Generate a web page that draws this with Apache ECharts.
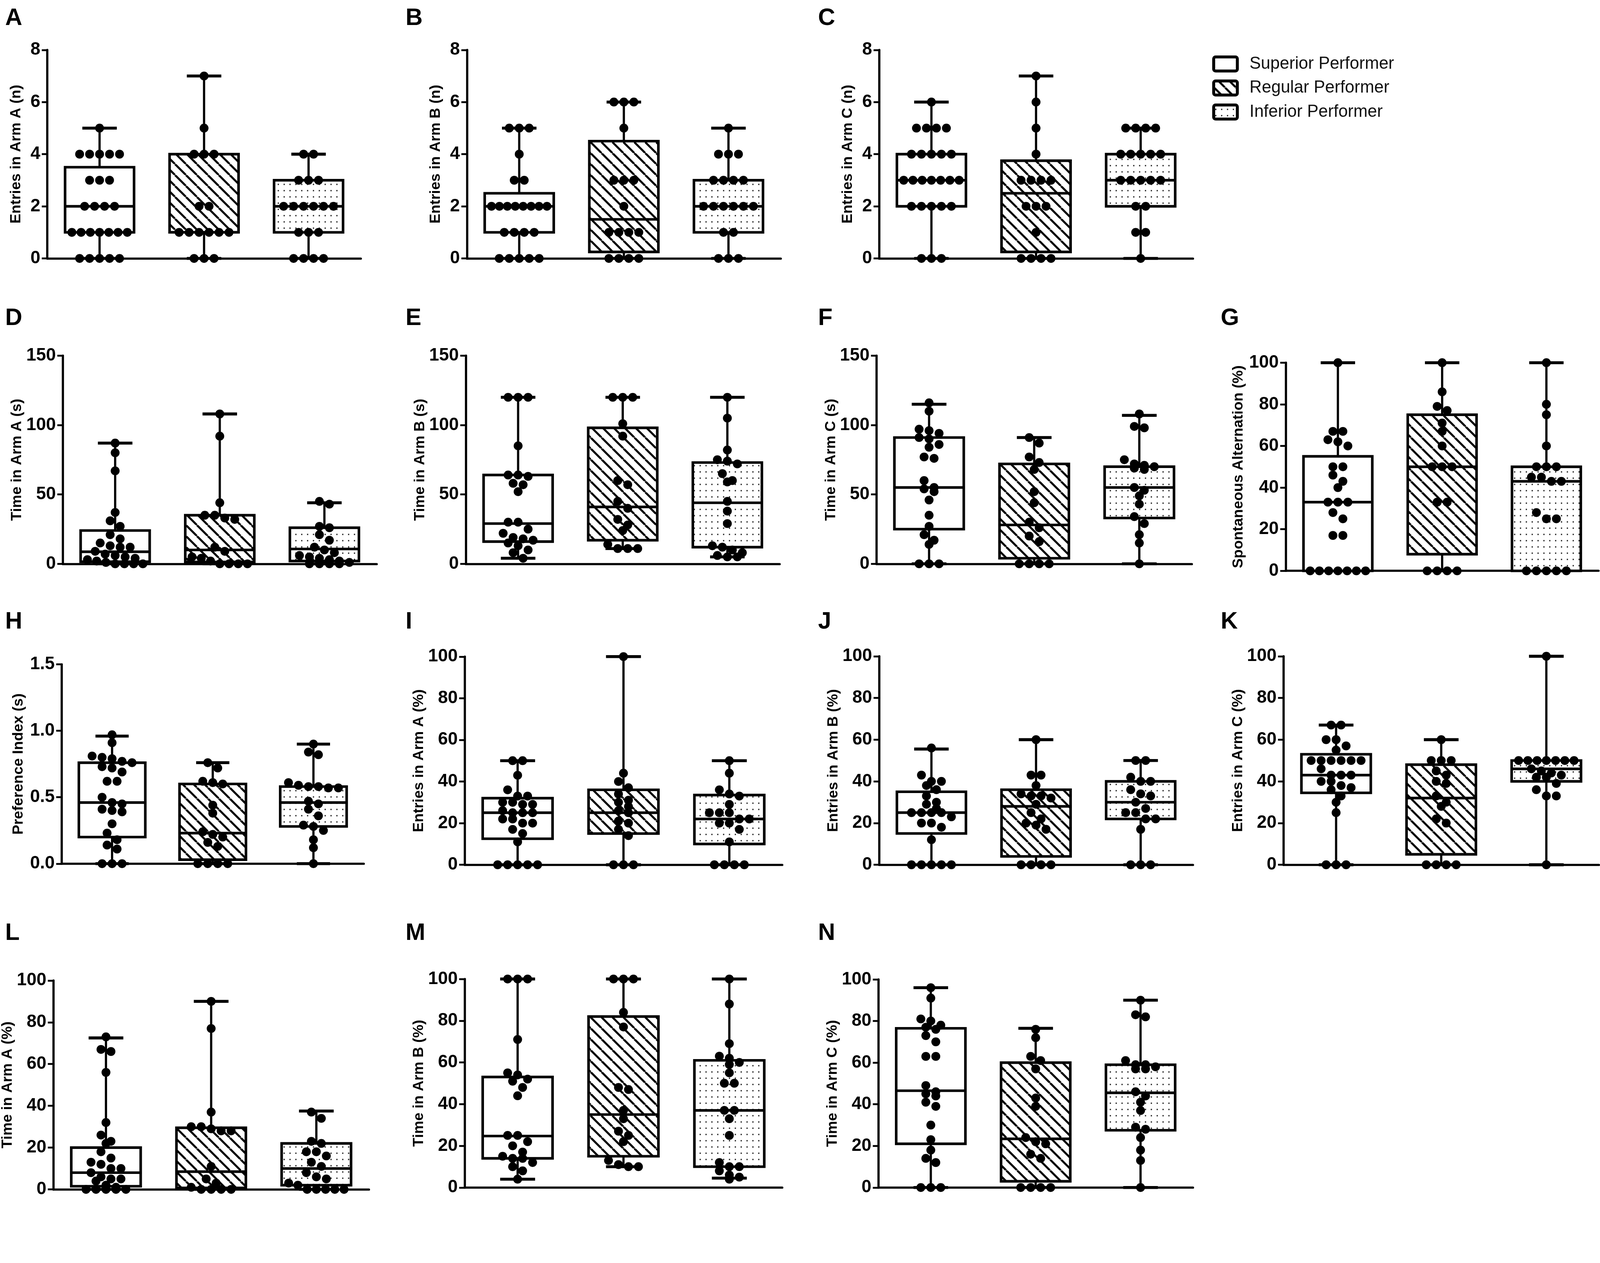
<!DOCTYPE html>
<html>
<head>
<meta charset="utf-8">
<script src="https://cdn.jsdelivr.net/npm/echarts@6/dist/echarts.min.js"></script>
<style>
  html, body { margin: 0; padding: 0; background: #fff; overflow: hidden; }
  #main { width: 100vw; height: 100vh; }
</style>
</head>
<body>
<div id="main"></div>
<script>
const groups = ["Superior Performer", "Regular Performer", "Inferior Performer"];

// box stats per group: [min, q1, median, q3, max]; points per group
const boxA = [[0, 1, 2, 3.5, 5], [0, 1, 1, 4, 7], [0, 1, 2, 3, 4]];
const ptsA = [
  [5, 4, 4, 4, 4, 4, 3, 3, 3, 2, 2, 2, 2, 1, 1, 1, 1, 1, 1, 1, 0, 0, 0, 0, 0],
  [7, 5, 4, 4, 4, 2, 2, 1, 1, 1, 1, 1, 1, 0, 0, 0],
  [4, 4, 3, 3, 3, 2, 2, 2, 2, 2, 2, 1, 1, 1, 0, 0, 0, 0]
];
const boxB = [[0, 1, 2, 2.5, 5], [0, 0.25, 1.5, 4.5, 6], [0, 1, 2, 3, 5]];
const ptsB = [
  [5, 5, 5, 4, 3, 3, 2, 2, 2, 2, 2, 2, 2, 2, 1, 1, 1, 1, 0, 0, 0, 0, 0],
  [6, 6, 6, 5, 3, 3, 3, 2, 1, 1, 1, 1, 0, 0, 0, 0],
  [5, 4, 4, 4, 3, 3, 3, 3, 2, 2, 2, 2, 2, 2, 1, 1, 0, 0, 0]
];
const boxC = [[0, 2, 3, 4, 6], [0, 0.25, 2.5, 3.75, 7], [0, 2, 3, 4, 5]];
const ptsC = [
  [6, 5, 5, 5, 5, 4, 4, 4, 4, 4, 3, 3, 3, 3, 3, 3, 3, 2, 2, 2, 2, 2, 0, 0, 0],
  [7, 6, 5, 4, 3, 3, 3, 3, 2, 2, 2, 1, 0, 0, 0, 0],
  [5, 5, 5, 5, 4, 4, 4, 4, 4, 3, 3, 3, 3, 3, 2, 2, 1, 1, 0]
];
const boxD = [[0, 1.5, 8.7, 24, 87], [0, 1.3, 10, 35, 108], [0, 2, 10.7, 26, 44]];
const ptsD = [
  [87, 80, 67, 37, 31, 27, 21, 18, 15, 13, 12, 12, 9, 7, 6, 5, 4, 3, 2, 1, 0, 0, 0, 0],
  [108, 92, 44, 35, 35, 33, 32, 12, 9, 5, 4, 2, 0, 0, 0, 0],
  [45, 43, 27, 26, 21, 17, 12, 10, 8, 6, 5, 4, 3, 2, 1, 0, 0, 0, 0]
];
const boxE = [[4, 16, 29, 64, 120], [11, 17, 41, 98, 120], [5, 12, 44, 73, 120]];
const ptsE = [
  [120, 120, 120, 85, 64, 64, 63, 58, 57, 52, 30, 30, 25, 22, 19, 18, 17, 15, 13, 10, 8, 4],
  [120, 120, 120, 101, 92, 60, 57, 45, 40, 32, 28, 24, 14, 11, 11, 11],
  [120, 105, 82, 75, 74, 72, 65, 60, 59, 45, 38, 29, 13, 12, 10, 8, 6, 5, 5]
];
const boxF = [[0, 25, 55, 91, 115], [0, 4, 28, 72, 91], [0, 33, 55, 70, 107]];
const ptsF = [
  [116, 110, 97, 96, 94, 91, 90, 86, 84, 77, 76, 60, 55, 54, 52, 46, 35, 27, 21, 17, 14, 0, 0, 0],
  [91, 87, 77, 73, 68, 52, 44, 30, 26, 20, 16, 0, 0, 0, 0],
  [108, 99, 98, 75, 72, 71, 70, 69, 68, 55, 53, 49, 43, 34, 29, 21, 15, 0]
];
const boxG = [[0, 0, 33, 55, 100], [0, 8, 50, 75, 100], [0, 0, 43, 50, 100]];
const ptsG = [
  [100, 67, 67, 63, 62, 60, 50, 50, 46, 43, 40, 33, 33, 33, 28, 25, 17, 17, 0, 0, 0, 0, 0, 0, 0],
  [100, 86, 79, 77, 71, 67, 60, 50, 50, 50, 33, 33, 0, 0, 0, 0],
  [100, 80, 75, 60, 50, 50, 50, 45, 45, 43, 43, 28, 25, 25, 0, 0, 0, 0, 0]
];
const boxH = [[0, 0.2, 0.46, 0.76, 0.96], [0, 0.03, 0.23, 0.6, 0.76], [0, 0.28, 0.46, 0.58, 0.9]];
const ptsH = [
  [0.97, 0.91, 0.81, 0.8, 0.79, 0.77, 0.76, 0.73, 0.72, 0.69, 0.62, 0.62, 0.5, 0.46, 0.45, 0.41, 0.4, 0.39, 0.3, 0.23, 0.18, 0.14, 0.11, 0, 0, 0],
  [0.76, 0.72, 0.62, 0.61, 0.6, 0.44, 0.38, 0.24, 0.22, 0.2, 0.16, 0.13, 0, 0, 0, 0],
  [0.9, 0.84, 0.82, 0.61, 0.59, 0.58, 0.58, 0.57, 0.57, 0.47, 0.45, 0.41, 0.36, 0.29, 0.28, 0.25, 0.18, 0.12, 0]
];
const boxI = [[0, 12.5, 25, 32, 50], [0, 15, 25, 36, 100], [0, 10, 22, 33.5, 50]];
const ptsI = [
  [50, 50, 43, 36, 33, 33, 30, 30, 29, 29, 26, 25, 25, 25, 22, 22, 20, 20, 17, 15, 11, 0, 0, 0, 0, 0],
  [100, 44, 40, 37, 34, 31, 30, 28, 26, 25, 21, 20, 17, 14, 0, 0, 0],
  [50, 44, 36, 34, 33, 29, 25, 25, 25, 22, 22, 20, 20, 17, 11, 0, 0, 0, 0]
];
const boxJ = [[0, 15, 25, 35, 55.5], [0, 4, 28, 36, 60], [0, 22, 30, 40, 50]];
const ptsJ = [
  [56, 43, 40, 40, 38, 36, 33, 30, 29, 27, 25, 25, 25, 25, 23, 20, 20, 18, 12, 0, 0, 0, 0, 0],
  [60, 43, 43, 38, 34, 33, 33, 32, 29, 25, 22, 20, 19, 17, 0, 0, 0, 0],
  [50, 50, 42, 40, 40, 36, 34, 33, 30, 27, 25, 25, 22, 22, 17, 0, 0, 0]
];
const boxK = [[0, 34.5, 43, 53, 67], [0, 5, 32, 48, 60], [0, 40, 46, 50, 100]];
const ptsK = [
  [67, 67, 60, 60, 57, 55, 50, 50, 50, 50, 50, 50, 46, 43, 43, 43, 40, 40, 38, 37, 36, 33, 30, 25, 0, 0, 0],
  [60, 50, 50, 50, 45, 43, 40, 39, 33, 30, 28, 22, 20, 0, 0, 0, 0],
  [100, 50, 50, 50, 50, 50, 50, 50, 46, 45, 44, 43, 42, 42, 39, 36, 33, 33, 0]
];
const boxL = [[0, 1.5, 8, 20, 72.5], [0, 0.7, 8.5, 29.5, 90], [0, 2, 10, 22, 37.5]];
const ptsL = [
  [73, 67, 66, 56, 32, 26, 23, 22, 18, 15, 13, 12, 10, 10, 8, 6, 5, 5, 4, 2, 1, 0, 0, 0, 0, 0],
  [90, 77, 37, 30, 30, 29, 28, 28, 11, 5, 3, 1, 0, 0, 0, 0],
  [37, 34, 23, 22, 18, 18, 16, 13, 11, 8, 6, 5, 3, 2, 0, 0, 0, 0, 0]
];
const boxM = [[4, 14, 24.7, 53, 100], [10, 15, 35, 82, 100], [4.5, 10, 37, 61, 100]];
const ptsM = [
  [100, 100, 100, 71, 55, 54, 52, 51, 48, 44, 25, 25, 22, 20, 17, 15, 14, 14, 12, 10, 8, 4],
  [100, 100, 100, 84, 77, 48, 47, 37, 33, 27, 25, 22, 13, 11, 10, 10],
  [100, 88, 69, 63, 62, 60, 59, 55, 50, 50, 37, 37, 33, 25, 12, 10, 10, 8, 6, 5, 4]
];
const boxN = [[0, 21, 46.5, 76.5, 96], [0, 3, 23.4, 60, 76.5], [0, 27.5, 45.5, 59, 90]];
const ptsN = [
  [96, 91, 81, 80, 78, 77, 76, 73, 70, 63, 63, 49, 46, 45, 44, 41, 39, 30, 23, 18, 14, 12, 0, 0, 0],
  [76, 72, 63, 61, 57, 43, 39, 24, 22, 21, 16, 14, 0, 0, 0, 0],
  [90, 83, 82, 61, 59, 59, 58, 57, 57, 46, 44, 41, 37, 29, 28, 24, 18, 13, 0]
];

// panel layout (reference px): plot rect [left, top, right, bottom], title gap, letter position
const panels = [
  { tag: "A", title: "Entries in Arm A (n)", box: boxA, pts: ptsA, yMax: 8, step: 2, rect: [128, 135, 976, 699], gap: 64, lx: 14, ly: 50 },
  { tag: "B", title: "Entries in Arm B (n)", box: boxB, pts: ptsB, yMax: 8, step: 2, rect: [1263, 135, 2112, 699], gap: 64, lx: 1097, ly: 50 },
  { tag: "C", title: "Entries in Arm C (n)", box: boxC, pts: ptsC, yMax: 8, step: 2, rect: [2378, 135, 3227, 699], gap: 64, lx: 2213, ly: 50 },
  { tag: "D", title: "Time in Arm A (s)", box: boxD, pts: ptsD, yMax: 150, step: 50, rect: [170, 962, 1019, 1525], gap: 104, lx: 14, ly: 862 },
  { tag: "E", title: "Time in Arm B (s)", box: boxE, pts: ptsE, yMax: 150, step: 50, rect: [1260, 962, 2109, 1525], gap: 102, lx: 1097, ly: 862 },
  { tag: "F", title: "Time in Arm C (s)", box: boxF, pts: ptsF, yMax: 150, step: 50, rect: [2371, 962, 3224, 1525], gap: 102, lx: 2213, ly: 862 },
  { tag: "G", title: "Spontaneous Alternation (%)", box: boxG, pts: ptsG, yMax: 100, step: 20, rect: [3478, 981, 4324, 1544], gap: 108, lx: 3302, ly: 862 },
  { tag: "H", title: "Preference Index (s)", box: boxH, pts: ptsH, yMax: 1.5, step: 0.5, dec: 1, rect: [167, 1797, 984, 2336], gap: 97, lx: 14, ly: 1682 },
  { tag: "I", title: "Entries in Arm A (%)", box: boxI, pts: ptsI, yMax: 100, step: 20, rect: [1257, 1776, 2116, 2339], gap: 95, lx: 1097, ly: 1682 },
  { tag: "J", title: "Entries in Arm B (%)", box: boxJ, pts: ptsJ, yMax: 100, step: 20, rect: [2378, 1775, 3227, 2339], gap: 88, lx: 2213, ly: 1682 },
  { tag: "K", title: "Entries in Arm C (%)", box: boxK, pts: ptsK, yMax: 100, step: 20, rect: [3472, 1775, 4325, 2339], gap: 92, lx: 3302, ly: 1682 },
  { tag: "L", title: "Time in Arm A (%)", box: boxL, pts: ptsL, yMax: 100, step: 20, rect: [144, 2652, 998, 3217], gap: 90, lx: 14, ly: 2525 },
  { tag: "M", title: "Time in Arm B (%)", box: boxM, pts: ptsM, yMax: 100, step: 20, rect: [1257, 2648, 2116, 3212], gap: 98, lx: 1097, ly: 2525 },
  { tag: "N", title: "Time in Arm C (%)", box: boxN, pts: ptsN, yMax: 100, step: 20, rect: [2376, 2649, 3227, 3212], gap: 104, lx: 2213, ly: 2525 }
];

const FONT = '"Liberation Sans", Arial, Helvetica, sans-serif';
const NARROW = '"Liberation Sans Narrow", "Arial Narrow", "Liberation Sans", Arial, sans-serif';

const dom = document.getElementById("main");
// everything below is laid out on the 4328 x 3233 reference frame and scaled to the viewport
const S = Math.min(dom.clientWidth / 4328, dom.clientHeight / 3233);
const px = (v) => v * S;
const DOT = px(24), STEP = px(27), SPAN = px(150);

// fill tiles
function hatchTile() {
  const s = Math.round(px(30)), c = document.createElement("canvas");
  c.width = s; c.height = s;
  const g = c.getContext("2d");
  g.fillStyle = "#fff"; g.fillRect(0, 0, s, s);
  g.strokeStyle = "#000"; g.lineWidth = px(5.5);
  for (const o of [-s, 0, s]) {
    g.beginPath(); g.moveTo(o, 0); g.lineTo(o + s, s); g.stroke();
  }
  return c;
}
function dotTile() {
  const w = Math.round(px(16)), h = Math.round(px(17));
  const c = document.createElement("canvas");
  c.width = w; c.height = h;
  const g = c.getContext("2d");
  g.fillStyle = "#fff"; g.fillRect(0, 0, w, h);
  g.fillStyle = "#222"; g.fillRect(w / 2 - px(1.7), h / 2 - px(1.7), px(3.4), px(3.4));
  return c;
}
const fills = ["#fff", { image: hatchTile(), repeat: "repeat" }, { image: dotTile(), repeat: "repeat" }];

// spread points with equal-ish values sideways
function swarm(vals, g, pxY, pxX) {
  const s = vals.slice().sort((a, b) => b - a);
  const out = [];
  let i = 0;
  while (i < s.length) {
    let j = i + 1;
    while (j < s.length && (s[i] - s[j]) * pxY < DOT * 0.8) j++;
    const row = s.slice(i, j), n = row.length;
    const st = n > 1 ? Math.min(STEP, SPAN / (n - 1)) : 0;
    row.forEach((v, k) => out.push([g + ((k - (n - 1) / 2) * st) / pxX, v]));
    i = j;
  }
  return out;
}

function renderBox(params, api) {
  const g = api.value(0);
  const top = api.coord([g, api.value(5)]);
  const q3 = api.coord([g, api.value(4)]);
  const med = api.coord([g, api.value(3)]);
  const q1 = api.coord([g, api.value(2)]);
  const bot = api.coord([g, api.value(1)]);
  const unit = api.size([1, 0])[0];
  const bw = unit * 0.66, cw = unit * 0.33;
  const x = top[0];
  const line = (x1, y1, x2, y2, w) => ({
    type: "line", shape: { x1, y1, x2, y2 }, style: { stroke: "#000", lineWidth: w }
  });
  return {
    type: "group",
    children: [
      line(x, top[1], x, bot[1], px(6)),
      line(x - cw / 2, top[1], x + cw / 2, top[1], px(8)),
      line(x - cw / 2, bot[1], x + cw / 2, bot[1], px(8)),
      {
        type: "rect",
        shape: { x: x - bw / 2, y: q3[1], width: bw, height: Math.max(q1[1] - q3[1], 1) },
        style: { fill: fills[g], stroke: "#000", lineWidth: px(7) }
      },
      line(x - bw / 2, med[1], x + bw / 2, med[1], px(7))
    ]
  };
}

const grid = [], xAxis = [], yAxis = [], series = [], graphic = [];
panels.forEach((p, i) => {
  const [l, t, r, b] = p.rect.map(px);
  grid.push({ left: l, top: t, width: r - l, height: b - t });
  xAxis.push({
    gridIndex: i, type: "value", min: -0.5, max: 2.5,
    axisLine: { show: true, onZero: false, lineStyle: { color: "#000", width: px(6) } },
    axisTick: { show: false }, axisLabel: { show: false }, splitLine: { show: false }
  });
  yAxis.push({
    gridIndex: i, type: "value", min: 0, max: p.yMax, interval: p.step,
    axisLine: { show: true, onZero: false, lineStyle: { color: "#000", width: px(6) } },
    axisTick: { show: true, length: px(15), lineStyle: { color: "#000", width: px(5) } },
    axisLabel: {
      color: "#000", fontSize: px(48), fontWeight: "bold", fontFamily: NARROW, margin: px(19),
      formatter: (v) => (p.dec ? v.toFixed(p.dec) : String(v))
    },
    splitLine: { show: false },
    name: p.title, nameLocation: "middle", nameGap: px(p.gap), nameRotate: 90,
    nameTextStyle: { color: "#000", fontSize: px(40), fontWeight: "bold", fontFamily: FONT }
  });
  series.push({
    type: "custom", xAxisIndex: i, yAxisIndex: i, renderItem: renderBox, clip: false, z: 2,
    encode: { x: 0, y: [1, 2, 3, 4, 5] },
    data: p.box.map((s, g) => [g].concat(s))
  });
  const pxY = (b - t) / p.yMax, pxX = (r - l) / 3;
  series.push({
    type: "scatter", xAxisIndex: i, yAxisIndex: i, clip: false, z: 3,
    symbol: "circle", symbolSize: DOT, itemStyle: { color: "#000", opacity: 1 },
    data: [].concat(...p.pts.map((v, g) => swarm(v, g, pxY, pxX)))
  });
  graphic.push({
    type: "text", x: px(p.lx), y: px(p.ly),
    style: { text: p.tag, fill: "#000", font: "bold " + px(64) + "px " + FONT, verticalAlign: "middle" }
  });
});

// legend
groups.forEach((name, g) => {
  const cy = 173 + g * 65;
  graphic.push({
    type: "rect", shape: { x: px(3283), y: px(cy - 19), width: px(64), height: px(38), r: px(5) },
    style: { fill: fills[g], stroke: "#000", lineWidth: px(8) }
  });
  graphic.push({
    type: "text", x: px(3380), y: px(cy),
    style: { text: name, fill: "#111", font: px(46) + "px " + FONT, verticalAlign: "middle" }
  });
});

const chart = echarts.init(dom, null, { renderer: "canvas" });
chart.setOption({
  animation: false,
  backgroundColor: "#fff",
  grid, xAxis, yAxis, series, graphic
});
</script>
</body>
</html>
